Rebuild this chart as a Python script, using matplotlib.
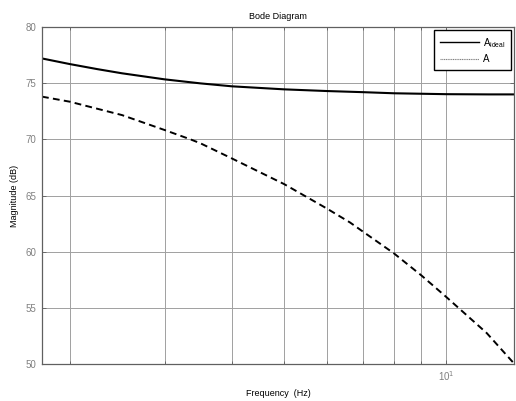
import matplotlib
matplotlib.use("Agg")
import matplotlib.pyplot as plt
from matplotlib.lines import Line2D
from matplotlib.ticker import FixedLocator, NullFormatter, FixedFormatter

plt.rcParams['font.family'] = ['Liberation Sans', 'DejaVu Sans']

freq_ideal = [1.776, 2, 2.25, 2.5, 3, 3.5, 4, 5, 6, 7, 8, 10, 12, 13.37]
a_ideal = [77.2, 76.7, 76.25, 75.88, 75.34, 74.98, 74.72, 74.45, 74.3, 74.2, 74.1, 74.02, 74.0, 74.0]

freq_real = [1.776, 2, 2.5, 3, 3.35, 3.5, 4, 5, 6, 6.63, 7, 8, 9, 10, 11.9, 13.37]
a_real = [73.8, 73.35, 72.16, 70.83, 70.0, 69.64, 68.3, 66.02, 63.85, 62.6, 61.8, 59.85, 57.88, 55.98, 52.75, 50.05]

yticks = [50, 55, 60, 65, 70, 75, 80]
xminor = [2, 3, 4, 5, 6, 7, 8, 9]
xmajor = [10]
xmajor_labels = ['10$^{1}$']

fig = plt.figure(figsize=(5.16, 4.01), dpi=100)
ax = fig.add_axes([42/516, 37/401, 472/516, 337/401])

ax.plot(freq_ideal, a_ideal, color='black', lw=1.5, solid_capstyle='butt',
        solid_joinstyle='round')
ax.plot(freq_real, a_real, color='black', lw=1.4, ls=(0, (3.5, 2.2)))

ax.set_xscale('log')
ax.set_xlim(1.776, 13.37)
ax.set_ylim(50, 80)

ax.xaxis.set_major_locator(FixedLocator(xmajor))
ax.xaxis.set_major_formatter(FixedFormatter(xmajor_labels))
ax.xaxis.set_minor_locator(FixedLocator(xminor))
ax.xaxis.set_minor_formatter(NullFormatter())
ax.set_yticks(yticks)
ax.set_yticklabels([str(v) for v in yticks])

ax.grid(True, which='both', axis='x', color='#a0a0a0', lw=0.7)
ax.grid(True, which='major', axis='y', color='#a0a0a0', lw=0.7)

ax.tick_params(which='both', direction='in', top=True, right=True,
               labelsize=7, labelcolor='#808080', color='#606060', width=0.6)
ax.tick_params(which='major', length=3, pad=4)
ax.tick_params(which='minor', length=2)
for s in ax.spines.values():
    s.set_color('#606060')
    s.set_linewidth(0.9)

ax.set_title('Bode Diagram', fontsize=6.5, pad=6)
ax.set_xlabel('Frequency  (Hz)', fontsize=6.5, labelpad=4)
ax.set_ylabel('Magnitude (dB)', fontsize=6.5, labelpad=5)

handles = [Line2D([], [], color='black', lw=1.0),
           Line2D([], [], color='#808080', lw=0.8, ls=(0, (1, 0.6)))]
leg = ax.legend(handles, ['A$_{\\mathregular{ideal}}$', 'A'], loc='upper right',
                fontsize=7, frameon=True, fancybox=False, framealpha=1,
                edgecolor='black', borderaxespad=0.3, handlelength=4.0,
                handletextpad=0.4, borderpad=0.6, labelspacing=0.5)
leg.get_frame().set_linewidth(1.0)

fig.savefig('out.png', dpi=100)
